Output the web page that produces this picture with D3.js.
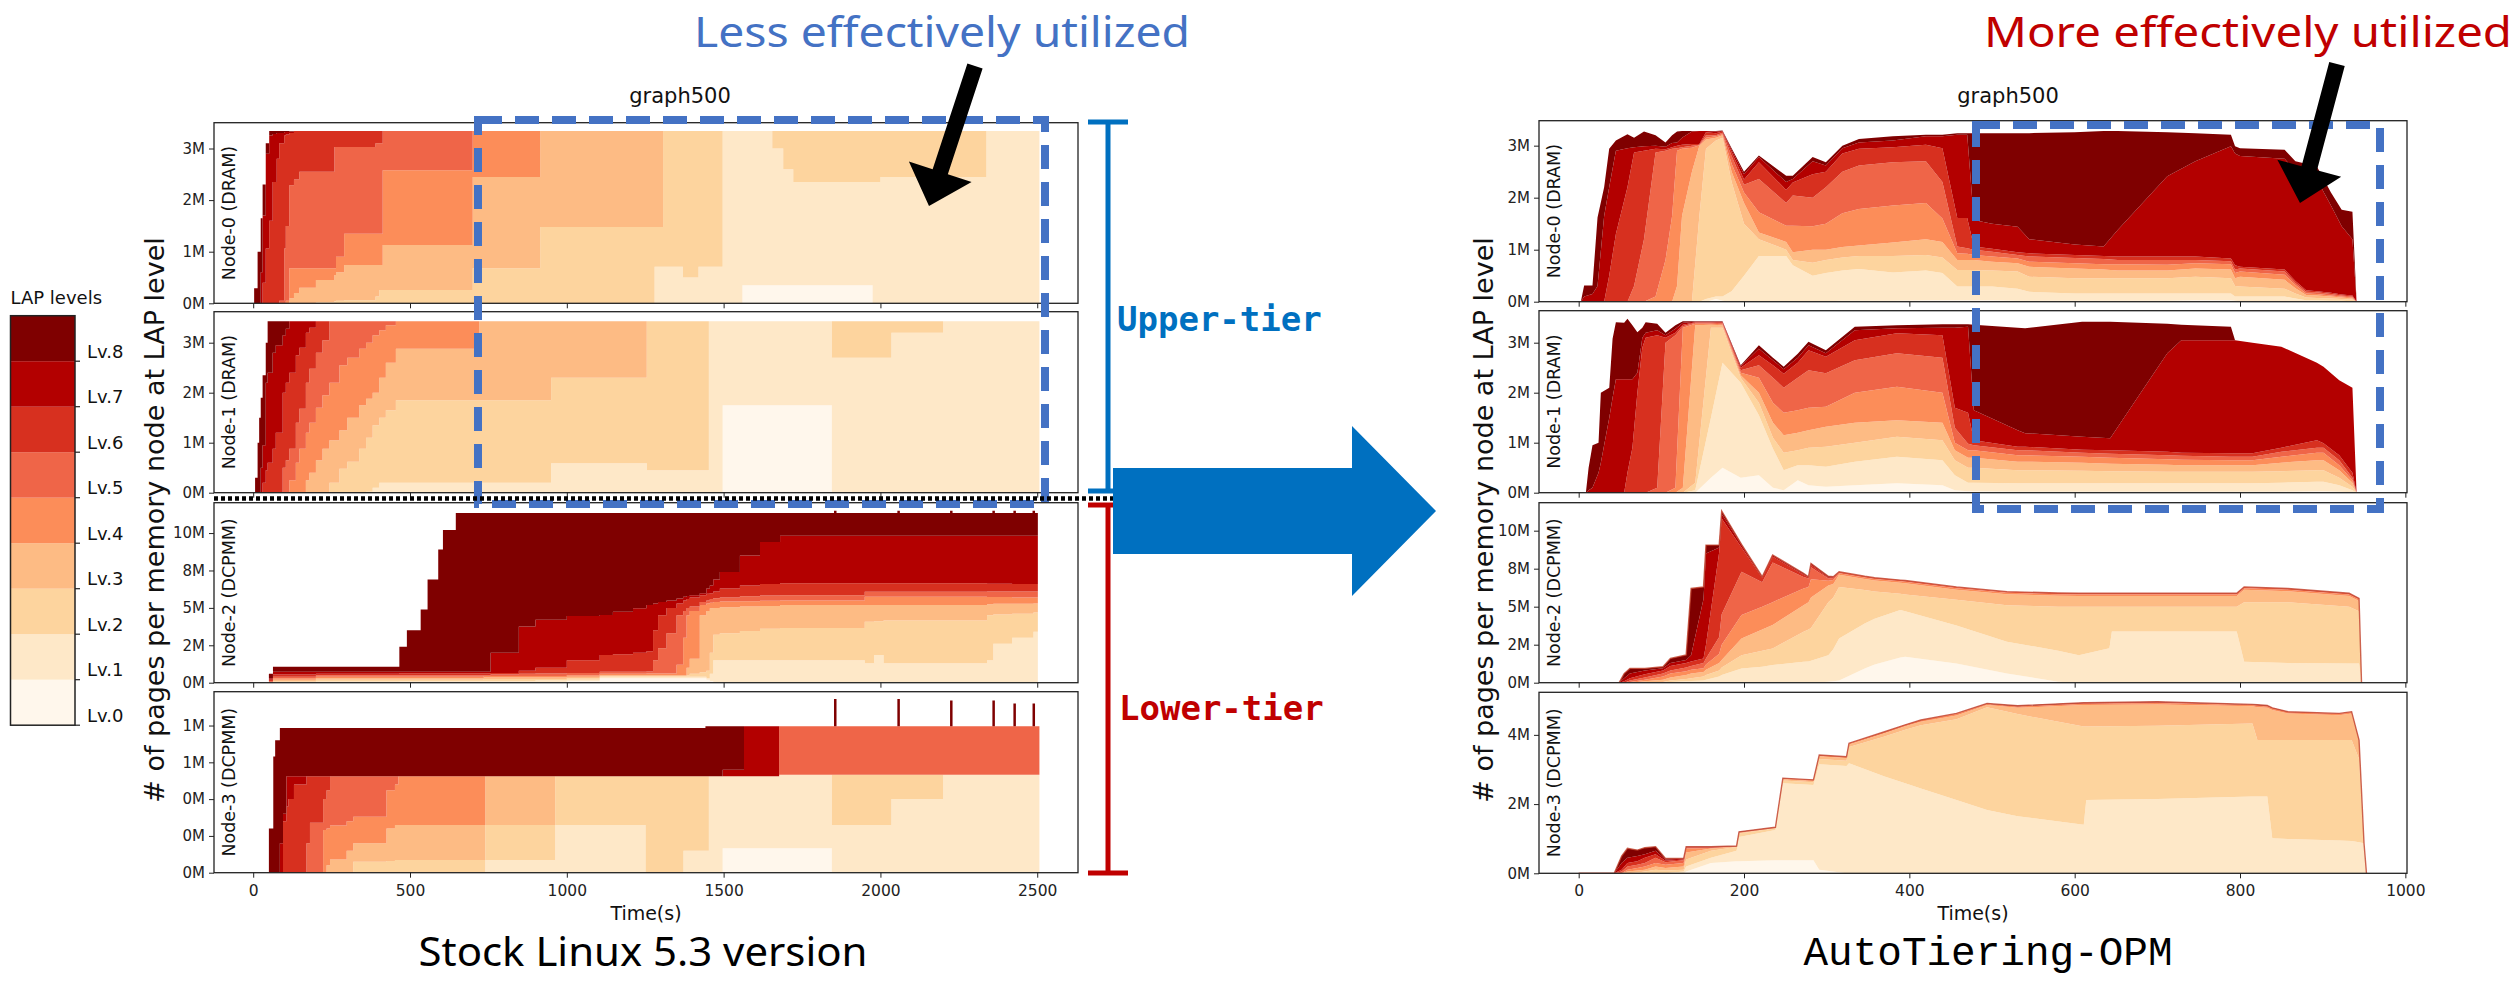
<!DOCTYPE html>
<html><head><meta charset="utf-8">
<script src="https://cdn.jsdelivr.net/npm/d3@7"></script>
<style>body{margin:0;background:#fff}svg{display:block}</style>
</head><body>
<svg id="c" width="2517" height="983"></svg>
<script>
// ---------------- DATA ----------------
const levels = ["Lv.0","Lv.1","Lv.2","Lv.3","Lv.4","Lv.5","Lv.6","Lv.7","Lv.8"];
const levelColors = ["#fff7ec","#fee8c8","#fdd49e","#fdbb84","#fc8d59","#ef6548","#d7301f","#b30000","#7f0000"];
const nodeNames = ["Node-0 (DRAM)","Node-1 (DRAM)","Node-2 (DCPMM)","Node-3 (DCPMM)"];
const stockTimeTicks = [0,500,1000,1500,2000,2500];
const autoTimeTicks = [0,200,400,600,800,1000];
const ticksDram = [0,1,2,3], labelsDram = ["0M","1M","2M","3M"];
const ticksN2 = [0,2.5,5,7.5,10], labelsN2 = ["0M","2M","5M","8M","10M"];
const ticksStockN3 = [0,0.25,0.5,0.75,1], labelsStockN3 = ["0M","0M","0M","1M","1M"];
const ticksAutoN3 = [0,2,4], labelsAutoN3 = ["0M","2M","4M"];

// rows: [time(s), pages(M) at level<=0, <=1, <=2, <=3, <=4, <=5, <=6, <=7, total]
const stockNode0 = [
[0,0,0,0,0,0,0,0,0,0],
[3,0,0,0,0,0,0,0,0,0.29],
[14,0,0,0,0,0,0,0,0,1.0],
[24,0,0,0,0,0,0,0,0.6,1.65],
[30,0,0,0,0,0,0,0.4,1.7,2.3],
[40,0,0,0,0,0,0,1.06,2.9,3.1],
[51,0,0,0,0,0,0,1.6,3.25,3.34],
[62,0,0,0,0,0,0,2.35,3.28,3.34],
[75,0,0,0,0,0,0,2.8,3.3,3.34],
[83,0,0,0,0,0,0.05,3.1,3.3,3.34],
[99,0,0,0,0,0,1.06,3.25,3.32,3.34],
[104,0,0,0,0,0.05,1.5,3.27,3.32,3.34],
[115,0,0,0,0.1,0.68,2.29,3.3,3.33,3.34],
[130,0,0,0,0.2,0.68,2.4,3.34,3.34,3.34],
[147,0,0,0,0.3,0.68,2.55,3.34,3.34,3.34],
[200,0,0,0.02,0.45,0.68,2.55,3.34,3.34,3.34],
[259,0,0,0.04,0.55,0.68,3.03,3.34,3.34,3.34],
[264,0,0,0.05,0.6,0.9,3.03,3.34,3.34,3.34],
[290,0,0,0.06,0.74,1.35,3.03,3.34,3.34,3.34],
[390,0,0,0.13,0.74,1.35,3.1,3.34,3.34,3.34],
[402,0,0,0.26,0.74,1.35,3.1,3.34,3.34,3.34],
[413,0,0,0.26,1.13,2.58,3.34,3.34,3.34,3.34],
[680,0,0,0.26,1.13,2.58,3.34,3.34,3.34,3.34],
[700,0,0,0.68,2.45,3.34,3.34,3.34,3.34,3.34],
[915,0,0,1.48,3.34,3.34,3.34,3.34,3.34,3.34],
[1280,0,0.71,1.48,3.34,3.34,3.34,3.34,3.34,3.34],
[1307,0,0.71,3.34,3.34,3.34,3.34,3.34,3.34,3.34],
[1370,0,0.5,3.34,3.34,3.34,3.34,3.34,3.34,3.34],
[1420,0,0.71,3.34,3.34,3.34,3.34,3.34,3.34,3.34],
[1497,0,3.34,3.34,3.34,3.34,3.34,3.34,3.34,3.34],
[1560,0.35,3.34,3.34,3.34,3.34,3.34,3.34,3.34,3.34],
[1655,0.35,3.0,3.34,3.34,3.34,3.34,3.34,3.34,3.34],
[1690,0.35,2.6,3.34,3.34,3.34,3.34,3.34,3.34,3.34],
[1722,0.35,2.35,3.34,3.34,3.34,3.34,3.34,3.34,3.34],
[1975,0,2.35,3.34,3.34,3.34,3.34,3.34,3.34,3.34],
[2000,0,2.45,3.34,3.34,3.34,3.34,3.34,3.34,3.34],
[2338,0,3.34,3.34,3.34,3.34,3.34,3.34,3.34,3.34],
[2507,0,0,0,0,0,0,0,0,0]
];
const stockNode1 = [
[0,0,0,0,0,0,0,0,0,0],
[6,0,0,0,0,0,0,0,0,0.3],
[14,0,0,0,0,0,0,0,0,1.0],
[19,0,0,0,0,0,0,0,0,1.5],
[24,0,0,0,0,0,0,0,0.5,1.9],
[30,0,0,0,0,0,0,0.2,0.95,2.35],
[40,0,0,0,0,0,0,0.45,2.2,3.0],
[46,0,0,0,0,0,0,0.6,2.4,3.43],
[62,0,0,0,0,0,0,0.88,2.8,3.43],
[72,0,0,0,0,0,0,1.2,2.95,3.43],
[94,0,0,0,0,0,0.5,2.0,3.15,3.43],
[104,0,0,0,0,0,0.65,2.2,3.28,3.43],
[115,0,0,0,0,0.25,0.88,2.4,3.43,3.43],
[136,0,0,0,0,0.6,1.4,2.75,3.43,3.43],
[147,0,0,0,0,0.88,1.68,2.9,3.43,3.43],
[168,0,0,0,0.25,1.2,2.2,3.2,3.43,3.43],
[179,0,0,0,0.4,1.4,2.48,3.3,3.43,3.43],
[200,0,0,0,0.65,1.7,2.8,3.43,3.43,3.43],
[221,0,0,0,0.88,1.95,3.05,3.43,3.43,3.43],
[243,0,0,0.2,1.05,2.2,3.43,3.43,3.43,3.43],
[275,0,0,0.48,1.25,2.55,3.43,3.43,3.43,3.43],
[300,0,0,0.62,1.5,2.7,3.43,3.43,3.43,3.43],
[338,0,0,0.88,1.75,2.88,3.43,3.43,3.43,3.43],
[360,0,0.02,1.1,1.88,3.0,3.43,3.43,3.43,3.43],
[381,0,0.1,1.35,2.0,3.15,3.43,3.43,3.43,3.43],
[402,0,0.2,1.5,2.3,3.25,3.43,3.43,3.43,3.43],
[423,0,0.2,1.65,2.6,3.35,3.43,3.43,3.43,3.43],
[455,0,0.2,1.85,2.88,3.43,3.43,3.43,3.43,3.43],
[721,0,0.2,1.85,3.43,3.43,3.43,3.43,3.43,3.43],
[950,0,0.59,2.3,3.43,3.43,3.43,3.43,3.43,3.43],
[1255,0,0.45,3.43,3.43,3.43,3.43,3.43,3.43,3.43],
[1453,0,3.43,3.43,3.43,3.43,3.43,3.43,3.43,3.43],
[1497,1.75,3.43,3.43,3.43,3.43,3.43,3.43,3.43,3.43],
[1845,0,2.7,3.43,3.43,3.43,3.43,3.43,3.43,3.43],
[2035,0,3.2,3.43,3.43,3.43,3.43,3.43,3.43,3.43],
[2200,0,3.43,3.43,3.43,3.43,3.43,3.43,3.43,3.43],
[2507,0,0,0,0,0,0,0,0,0]
];
const stockNode2 = [
[0,0,0,0,0,0,0,0,0,0],
[47,0,0,0,0,0,0,0,0,0],
[50,0,0,0,0,0,0.1,0.2,0.3,0.6],
[63,0,0.03,0.1,0.2,0.3,0.4,0.55,0.74,1.07],
[200,0,0.08,0.2,0.3,0.4,0.5,0.6,0.74,1.07],
[466,0,0.1,0.2,0.3,0.4,0.5,0.63,0.74,2.4],
[490,0,0.1,0.2,0.3,0.4,0.5,0.63,0.74,3.5],
[534,0,0.1,0.2,0.3,0.4,0.5,0.63,0.74,4.9],
[556,0,0.1,0.2,0.3,0.4,0.5,0.63,0.74,6.9],
[590,0,0.1,0.2,0.3,0.4,0.5,0.63,0.74,8.9],
[605,0,0.1,0.2,0.3,0.4,0.5,0.63,0.74,10.2],
[646,0,0.1,0.2,0.3,0.4,0.5,0.63,0.74,11.34],
[735,0,0.1,0.25,0.35,0.45,0.5,0.63,0.74,11.34],
[757,0,0.1,0.25,0.35,0.45,0.55,0.65,2.0,11.34],
[847,0,0.1,0.25,0.35,0.45,0.6,0.8,3.75,11.34],
[900,0.05,0.15,0.25,0.35,0.45,0.62,1.0,4.2,11.34],
[1000,0.1,0.2,0.3,0.4,0.5,0.65,1.5,4.45,11.34],
[1105,0.3,0.4,0.45,0.5,0.6,0.73,1.85,4.52,11.34],
[1147,0.3,0.4,0.45,0.5,0.6,0.73,1.9,4.74,11.34],
[1211,0.3,0.4,0.45,0.5,0.6,0.73,2.0,4.97,11.34],
[1254,0.3,0.4,0.45,0.5,0.62,0.75,2.1,5.2,11.34],
[1275,0.3,0.4,0.45,0.5,0.62,1.5,3.5,5.3,11.34],
[1291,0.3,0.4,0.45,0.5,0.62,2.3,4.5,5.4,11.34],
[1318,0.3,0.4,0.45,0.5,0.62,3.3,5.0,5.5,11.34],
[1350,0.3,0.4,0.45,0.5,1.2,4.5,5.3,5.63,11.34],
[1371,0.3,0.4,0.45,0.5,3.0,4.8,5.5,5.75,11.34],
[1382,0.3,0.4,0.5,1.0,4.5,5.0,5.6,5.8,11.34],
[1392,0.3,0.4,0.6,1.6,4.8,5.1,5.7,5.85,11.34],
[1424,0.3,0.4,0.7,4.5,5.2,5.4,5.85,5.97,11.34],
[1445,0.2,0.3,0.8,4.8,5.3,5.5,5.95,6.3,11.34],
[1456,0.1,0.6,2.0,4.97,5.35,5.6,5.97,6.5,11.34],
[1467,0,1.5,3.2,5.0,5.4,5.65,6.1,6.9,11.34],
[1488,0,1.5,3.3,5.05,5.42,5.7,6.3,7.4,11.34],
[1552,0,1.5,3.45,5.1,5.45,5.78,6.5,8.5,11.34],
[1616,0,1.5,3.6,5.12,5.48,5.83,6.6,9.4,11.34],
[1680,0,1.5,3.65,5.19,5.5,5.85,6.64,9.82,11.34],
[1950,0,1.3,4.08,5.19,5.75,6.08,6.64,9.82,11.34],
[1980,0,1.85,4.1,5.2,5.75,6.08,6.64,9.82,11.34],
[2010,0,1.3,4.15,5.2,5.75,6.08,6.64,9.82,11.34],
[2340,0,1.5,4.5,5.25,5.72,6.1,6.62,9.82,11.34],
[2360,0,2.6,4.55,5.27,5.72,6.1,6.62,9.82,11.34],
[2420,0,3.0,4.6,5.28,5.7,6.1,6.6,9.82,11.34],
[2488,0,3.4,4.7,5.3,5.7,6.1,6.6,9.82,11.34],
[2502,0,0,0,0,0,0,0,0,0]
];
const stockNode3 = [
[0,0,0,0,0,0,0,0,0,0],
[42,0,0,0,0,0,0,0,0,0],
[50,0,0,0,0,0,0,0,0,0.3],
[64,0,0,0,0,0,0,0,0,0.79],
[70,0,0,0,0,0,0,0,0,0.9],
[85,0,0,0,0,0,0,0,0.2,0.984],
[95,0,0,0,0,0,0,0.35,0.4,0.984],
[106,0,0,0,0,0,0,0.45,0.655,0.984],
[112,0,0,0,0,0,0,0.5,0.655,0.984],
[130,0,0,0,0,0,0,0.6,0.655,0.984],
[170,0,0,0,0,0,0.2,0.655,0.655,0.984],
[181,0,0,0,0,0,0.34,0.655,0.655,0.984],
[223,0,0,0,0,0.29,0.5,0.655,0.655,0.984],
[234,0,0,0,0.05,0.3,0.56,0.655,0.655,0.984],
[245,0,0,0,0.09,0.32,0.655,0.655,0.655,0.984],
[298,0,0,0,0.15,0.35,0.655,0.655,0.655,0.984],
[319,0,0,0.075,0.2,0.38,0.655,0.655,0.655,0.984],
[425,0,0,0.08,0.3,0.56,0.655,0.655,0.655,0.984],
[452,0,0,0.086,0.325,0.6,0.655,0.655,0.655,0.984],
[463,0,0,0.086,0.325,0.655,0.655,0.655,0.655,0.984],
[740,0,0.086,0.325,0.655,0.655,0.655,0.655,0.655,0.984],
[963,0,0.325,0.655,0.655,0.655,0.655,0.655,0.655,0.984],
[1251,0,0,0.655,0.655,0.655,0.655,0.655,0.655,0.984],
[1372,0,0.15,0.655,0.655,0.655,0.655,0.655,0.655,0.984],
[1442,0,0.15,0.655,0.655,0.655,0.655,0.655,0.655,0.995],
[1453,0,0.655,0.655,0.655,0.655,0.655,0.655,0.655,0.995],
[1497,0.166,0.655,0.655,0.655,0.655,0.655,0.655,0.70,0.995],
[1565,0.166,0.655,0.655,0.655,0.655,0.655,0.655,0.995,0.995],
[1677,0.166,0.666,0.666,0.666,0.666,0.995,0.995,0.995,0.995],
[1845,0,0.325,0.666,0.666,0.666,0.995,0.995,0.995,0.995],
[2035,0,0.5,0.666,0.666,0.666,0.995,0.995,0.995,0.995],
[2200,0,0.666,0.666,0.666,0.666,0.995,0.995,0.995,0.995],
[2507,0,0,0,0,0,0,0,0,0]
];
// short Lv.8 bursts above the total: [time, base(M), peak(M)]
const stockNode2Spikes = [[1856,11.34,11.5],[2058,11.34,11.5],[2226,11.34,11.5],[2361,11.34,11.5],[2428,11.34,11.5],[2489,11.34,11.5]];
const stockNode3Spikes = [[1856,0.995,1.18],[2058,0.995,1.18],[2226,0.995,1.17],[2361,0.995,1.17],[2428,0.995,1.15],[2489,0.995,1.15]];

const autoNode0 = [
[0,0,0,0,0,0,0,0,0,0],
[2.6,0,0,0,0,0,0,0,0,0],
[6.6,0,0,0,0,0,0,0,0.1,0.31],
[16.7,0,0,0,0,0,0,0,0.15,0.31],
[22.8,0,0,0,0,0,0,0,0.3,1.62],
[30.8,0,0,0,0,0,0,0,1.65,2.2],
[36.9,0,0,0,0,0,0,0.5,2.2,2.94],
[45,0,0,0,0,0,0,1.3,2.9,3.1],
[59,0,0,0,0,0,0,2.2,2.95,3.22],
[67,0,0,0,0,0,0.3,2.87,2.97,3.15],
[79,0,0,0,0,0,1.2,2.9,2.99,3.27],
[93,0,0,0,0,0.1,2.87,2.94,3.0,3.2],
[105,0,0,0,0,0.8,2.9,2.93,2.98,3.06],
[113,0,0,0,0,1.65,2.94,2.97,3.05,3.2],
[119,0,0,0,0.3,2.9,2.95,3.0,3.06,3.27],
[125,0,0,0,1.65,2.94,2.97,3.02,3.15,3.28],
[137,0,0,0,2.5,2.96,3.0,3.03,3.27,3.28],
[146,0,0,1.65,3.0,3.01,3.02,3.03,3.28,3.28],
[154,0,0.05,2.94,3.12,3.15,3.2,3.26,3.28,3.28],
[166,0.05,0.1,3.1,3.15,3.18,3.2,3.24,3.27,3.28],
[174,0.02,0.1,3.15,3.2,3.22,3.25,3.27,3.28,3.29],
[185,0,0.2,2.3,2.5,2.65,2.8,2.88,2.92,2.95],
[200,0,0.5,1.5,1.9,2.1,2.25,2.35,2.45,2.5],
[218,0.01,0.88,1.2,1.33,1.72,2.36,2.68,2.78,2.81],
[251,0.01,0.88,1.0,1.15,1.46,1.9,2.15,2.3,2.42],
[259,0.01,0.7,0.8,0.95,1.46,2.04,2.29,2.36,2.42],
[283,0.01,0.5,0.75,1.0,1.45,2.0,2.45,2.7,2.78],
[299,0.01,0.55,0.8,1.0,1.5,2.2,2.5,2.62,2.68],
[319,0.02,0.6,0.85,1.05,1.7,2.5,2.85,2.95,3.0],
[339,0.02,0.63,0.88,1.08,1.78,2.62,2.94,3.06,3.13],
[380,0.02,0.56,0.88,1.14,1.85,2.68,2.97,3.1,3.18],
[420,0.03,0.6,0.9,1.2,1.9,2.7,3.02,3.18,3.21],
[440,0.03,0.55,0.85,1.15,1.6,2.3,2.95,3.18,3.21],
[458,0.03,0.29,0.61,0.80,0.93,1.06,1.61,3.21,3.24],
[470,0.03,0.29,0.61,0.80,0.92,1.03,1.61,3.21,3.24],
[478,0.03,0.29,0.61,0.80,0.90,1.00,1.06,1.57,3.24],
[500,0.03,0.29,0.6,0.77,0.87,0.96,1.02,1.5,3.24],
[531,0.02,0.25,0.58,0.74,0.83,0.9,0.95,1.44,3.24],
[545,0.02,0.19,0.48,0.67,0.77,0.87,0.93,1.2,3.24],
[600,0.02,0.16,0.45,0.64,0.74,0.84,0.9,1.1,3.26],
[635,0.02,0.16,0.45,0.62,0.72,0.82,0.88,1.06,3.28],
[652,0.02,0.16,0.45,0.6,0.72,0.8,0.87,1.38,3.28],
[712,0.02,0.16,0.45,0.6,0.71,0.8,0.87,2.41,3.26],
[746,0.03,0.16,0.48,0.64,0.74,0.8,0.87,2.70,3.24],
[789,0.03,0.16,0.45,0.62,0.72,0.78,0.83,2.99,3.21],
[794,0.02,0.1,0.3,0.45,0.55,0.62,0.7,2.85,2.99],
[800,0.01,0.10,0.29,0.48,0.58,0.64,0.67,2.8,2.95],
[854,0.01,0.10,0.25,0.42,0.52,0.58,0.62,2.75,2.92],
[867,0.01,0.06,0.16,0.26,0.32,0.36,0.40,2.5,2.7],
[880,0,0.03,0.08,0.13,0.16,0.19,0.22,2.45,2.65],
[893,0,0.03,0.07,0.12,0.15,0.18,0.2,2.35,2.6],
[910,0,0.02,0.06,0.1,0.12,0.15,0.17,1.85,2.1],
[923,0,0.02,0.05,0.08,0.1,0.12,0.14,1.45,1.77],
[936,0,0.01,0.04,0.06,0.08,0.1,0.12,1.2,1.73],
[941,0,0,0,0,0,0,0,0,0]
];
const autoNode1 = [
[0,0,0,0,0,0,0,0,0,0],
[8.7,0,0,0,0,0,0,0,0,0],
[12,0,0,0,0,0,0,0,0.05,0.5],
[16.7,0,0,0,0,0,0,0,0.1,0.95],
[24,0,0,0,0,0,0,0,0.4,1.0],
[26.8,0,0,0,0,0,0,0,0.6,2.0],
[37,0,0,0,0,0,0,0,1.5,2.1],
[41,0,0,0,0,0,0,0,1.9,3.08],
[45,0,0,0,0,0,0,0,2.27,3.41],
[55,0,0,0,0,0,0,0,2.27,3.4],
[59,0,0,0,0,0,0,0.4,2.27,3.48],
[65,0,0,0,0,0,0,0.9,2.27,3.35],
[71,0,0,0,0,0,0,2.0,2.4,3.21],
[77,0,0,0,0,0,0,2.9,3.1,3.3],
[81,0,0,0,0,0,0,3.1,3.2,3.41],
[95,0,0,0,0,0,0.1,3.15,3.25,3.38],
[105,0,0,0,0,0,3.0,3.1,3.15,3.2],
[117,0,0,0,0,0.1,3.15,3.2,3.28,3.35],
[126,0,0,0,0.1,3.3,3.33,3.36,3.4,3.43],
[141,0,0.05,0.2,3.35,3.38,3.4,3.41,3.42,3.43],
[160,0.3,1.5,3.3,3.36,3.38,3.4,3.41,3.42,3.43],
[174,0.5,2.6,3.3,3.35,3.37,3.39,3.41,3.42,3.43],
[196,0.3,2.2,2.3,2.35,2.4,2.45,2.5,2.53,2.55],
[218,0.35,1.55,1.8,2.0,2.3,2.55,2.75,2.88,2.95],
[235,0.1,0.88,1.1,1.4,1.8,2.3,2.55,2.65,2.7],
[248,0.05,0.45,0.8,1.15,1.6,2.1,2.38,2.47,2.52],
[265,0.25,0.55,0.85,1.2,1.65,2.3,2.6,2.7,2.78],
[278,0.15,0.55,0.9,1.25,1.7,2.45,2.85,2.95,3.02],
[299,0.12,0.52,0.92,1.32,1.72,2.39,2.72,2.79,2.85],
[334,0.15,0.62,1.0,1.4,2.0,2.65,3.05,3.25,3.32],
[385,0.19,0.72,1.12,1.45,2.12,2.79,3.19,3.29,3.35],
[440,0.15,0.65,1.05,1.4,2.0,2.7,3.15,3.3,3.37],
[455,0.05,0.35,0.65,0.85,1.0,1.3,1.7,3.3,3.37],
[471,0.03,0.2,0.5,0.7,0.85,0.98,1.6,3.32,3.37],
[478,0.03,0.2,0.5,0.7,0.85,0.95,1.05,1.65,3.36],
[531,0.02,0.19,0.45,0.62,0.75,0.85,0.92,1.25,3.3],
[540,0.02,0.19,0.45,0.62,0.75,0.85,0.92,1.19,3.29],
[609,0.02,0.19,0.44,0.6,0.72,0.8,0.86,1.12,3.42],
[643,0.02,0.19,0.43,0.58,0.7,0.78,0.85,1.09,3.42],
[712,0.02,0.19,0.42,0.56,0.67,0.75,0.82,2.79,3.38],
[729,0.02,0.19,0.42,0.55,0.66,0.74,0.8,3.05,3.36],
[789,0.02,0.19,0.42,0.55,0.65,0.72,0.79,3.05,3.32],
[794,0.02,0.19,0.42,0.55,0.65,0.72,0.79,3.05,3.05],
[815,0.02,0.19,0.42,0.55,0.65,0.72,0.79,3.0,3.0],
[850,0.02,0.2,0.43,0.6,0.72,0.82,0.9,2.92,2.92],
[893,0.03,0.22,0.45,0.65,0.8,0.9,1.05,2.6,2.6],
[901,0.03,0.22,0.45,0.65,0.8,0.9,0.99,2.52,2.52],
[920,0.02,0.15,0.3,0.45,0.55,0.65,0.75,2.25,2.25],
[936,0.01,0.05,0.12,0.2,0.25,0.3,0.4,2.1,2.1],
[941,0,0,0,0,0,0,0,0,0]
];
const autoNode2 = [
[0,0,0,0,0,0,0,0,0,0],
[49,0,0,0,0,0,0,0,0,0],
[55,0,0,0,0,0,0,0.1,0.3,0.6],
[62,0,0,0,0,0.05,0.15,0.3,0.6,0.94],
[80,0,0,0,0.1,0.2,0.35,0.55,0.8,0.94],
[102,0,0,0.05,0.2,0.4,0.6,0.8,0.95,1.05],
[111,0,0.05,0.15,0.35,0.6,0.8,1.1,1.3,1.6],
[130,0,0.1,0.25,0.5,0.75,1.0,1.3,1.5,1.82],
[136,0,0.12,0.3,0.6,0.85,1.1,1.4,1.8,6.2],
[151,0,0.15,0.4,0.7,0.95,1.3,1.6,5.5,6.3],
[154,0,0.2,0.5,0.85,1.2,1.6,2.5,8.5,9.05],
[170,0,0.4,0.8,1.3,1.9,3.0,8.6,8.9,9.05],
[173,0,0.5,1.0,1.5,2.5,4.5,10.8,11.1,11.3],
[197,0,0.94,1.8,2.9,4.45,7.3,8.9,9.05,9.1],
[222,0,1.05,2.1,3.5,5.0,6.6,6.9,6.95,6.97],
[234.6,0,1.16,2.25,3.8,5.3,7.9,8.3,8.38,8.4],
[272,0,1.38,3.35,5.1,6.2,6.95,7.1,7.15,7.2],
[278,0,1.4,3.5,5.3,6.3,6.85,6.92,6.95,6.97],
[281,0,1.45,3.6,5.6,6.8,7.6,7.75,7.82,7.85],
[302,0.07,1.8,5.3,6.4,6.7,6.85,6.9,6.95,7.0],
[308,0.1,2.2,5.6,6.5,6.75,6.88,6.93,6.96,6.97],
[315,0.15,2.9,6.3,7.1,7.2,7.3,7.3,7.3,7.3],
[346,0.94,3.9,6.1,6.82,6.92,7.0,7.0,7.0,7.0],
[358,1.2,4.2,6.0,6.72,6.82,6.9,6.9,6.9,6.9],
[389,1.65,4.78,5.85,6.57,6.67,6.75,6.75,6.75,6.75],
[395,1.7,4.7,5.8,6.54,6.64,6.72,6.72,6.72,6.72],
[457,1.27,3.77,5.45,6.12,6.22,6.3,6.3,6.3,6.3],
[518,0.61,2.7,5.1,5.81,5.91,5.99,5.99,5.99,5.99],
[580,0.07,2.1,5.0,5.72,5.82,5.9,5.9,5.9,5.9],
[605,0,1.8,5.0,5.7,5.8,5.88,5.88,5.88,5.88],
[642,0,2.26,5.0,5.7,5.8,5.88,5.88,5.88,5.88],
[645,0,3.36,5.0,5.7,5.8,5.88,5.88,5.88,5.88],
[796,0,3.36,5.0,5.7,5.8,5.88,5.88,5.88,5.88],
[805,0,1.38,5.3,6.12,6.22,6.3,6.3,6.3,6.3],
[858,0,1.3,5.3,6.02,6.12,6.2,6.2,6.2,6.2],
[932,0,1.27,5.0,5.7,5.8,5.88,5.88,5.88,5.88],
[944,0,1.27,4.7,5.37,5.47,5.55,5.55,5.55,5.55],
[947,0,0,0,0,0,0,0,0,0]
];
const autoNode3 = [
[0,0,0,0,0,0,0,0,0,0],
[43,0,0,0,0,0,0,0,0,0],
[52,0,0,0,0,0,0.05,0.1,0.3,0.5],
[59,0,0,0,0.05,0.1,0.2,0.3,0.45,0.72],
[71,0,0,0.02,0.08,0.15,0.25,0.35,0.5,0.67],
[80,0,0,0.05,0.1,0.2,0.3,0.45,0.55,0.74],
[93,0,0,0.1,0.2,0.3,0.45,0.55,0.65,0.77],
[105,0,0,0.08,0.15,0.25,0.32,0.36,0.4,0.43],
[127,0,0.05,0.1,0.2,0.3,0.38,0.4,0.42,0.43],
[130,0.05,0.2,0.4,0.6,0.72,0.74,0.75,0.76,0.77],
[160,0.3,0.45,0.65,0.72,0.73,0.74,0.75,0.76,0.77],
[191,0.35,0.65,0.76,0.77,0.78,0.78,0.78,0.78,0.79],
[194,0.35,1.05,1.15,1.17,1.18,1.19,1.19,1.19,1.2],
[238,0.38,1.25,1.3,1.31,1.32,1.33,1.33,1.33,1.33],
[247,0.38,2.6,2.68,2.72,2.74,2.75,2.75,2.75,2.75],
[284,0.38,2.55,2.63,2.67,2.69,2.7,2.7,2.7,2.7],
[291,0.1,3.15,3.3,3.38,3.41,3.42,3.42,3.42,3.42],
[324,0,3.1,3.25,3.33,3.36,3.37,3.37,3.37,3.37],
[327,0,3.18,3.65,3.72,3.75,3.76,3.76,3.76,3.76],
[370,0,2.8,3.95,4.05,4.08,4.09,4.09,4.09,4.09],
[395,0,2.6,4.15,4.25,4.28,4.29,4.29,4.29,4.29],
[414,0,2.45,4.28,4.38,4.42,4.43,4.43,4.43,4.43],
[457,0,2.12,4.45,4.56,4.6,4.62,4.62,4.62,4.62],
[494,0,1.83,4.8,4.86,4.89,4.9,4.9,4.9,4.91],
[531,0,1.65,4.6,4.78,4.82,4.83,4.83,4.83,4.84],
[611,0,1.4,4.24,4.86,4.9,4.91,4.92,4.92,4.93],
[614,0,2.12,4.24,4.86,4.9,4.91,4.92,4.92,4.93],
[700,0,2.15,4.26,4.88,4.92,4.93,4.94,4.95,4.96],
[815,0,2.22,4.33,4.83,4.86,4.87,4.87,4.87,4.88],
[821,0,2.22,3.85,4.8,4.84,4.85,4.86,4.86,4.87],
[833,0,2.22,3.85,4.78,4.82,4.83,4.84,4.84,4.85],
[839,0,1.01,3.85,4.72,4.76,4.77,4.78,4.78,4.78],
[858,0,0.99,3.85,4.62,4.65,4.66,4.67,4.67,4.67],
[920,0,0.95,3.85,4.57,4.6,4.61,4.62,4.62,4.62],
[935,0,0.93,3.85,4.62,4.65,4.66,4.67,4.67,4.67],
[944,0,0.9,3.3,3.8,3.83,3.84,3.85,3.85,3.85],
[950,0,0.87,0.87,0.87,0.87,0.87,0.87,0.87,0.87],
[953,0,0,0,0,0,0,0,0,0]
];

// ---------------- LAYOUT ----------------
const svg = d3.select("#c");
const FONT = "DejaVu Sans, sans-serif";
const stockX = [214, 1078], autoX = [1539, 2407];
const stockRows = [[122.7,303.3],[311.7,492.7],[502.7,682.7],[691.7,872.7]];
const autoRows = [[120.7,301.7],[310.7,492.7],[502.7,682.7],[692.3,873.3]];

const stockPanels = [
  {data: stockNode0, yMax: 3.5, ticks: ticksDram, labels: labelsDram},
  {data: stockNode1, yMax: 3.62, ticks: ticksDram, labels: labelsDram},
  {data: stockNode2, yMax: 12.03, ticks: ticksN2, labels: labelsN2, spikes: stockNode2Spikes},
  {data: stockNode3, yMax: 1.23, ticks: ticksStockN3, labels: labelsStockN3, spikes: stockNode3Spikes}
];
const autoPanels = [
  {data: autoNode0, yMax: 3.48, ticks: ticksDram, labels: labelsDram},
  {data: autoNode1, yMax: 3.64, ticks: ticksDram, labels: labelsDram},
  {data: autoNode2, yMax: 11.84, ticks: ticksN2, labels: labelsN2},
  {data: autoNode3, yMax: 5.23, ticks: ticksAutoN3, labels: labelsAutoN3}
];

function drawPanel(p, i, xr, yr, xDomain, xTicks, curve, isBottom, id, edge) {
  const x = d3.scaleLinear().domain(xDomain).range(xr);
  const y = d3.scaleLinear().domain([0, p.yMax]).range([yr[1], yr[0]]);
  const g = svg.append("g");
  g.append("clipPath").attr("id", id).append("rect")
    .attr("x", xr[0]).attr("y", yr[0]).attr("width", xr[1]-xr[0]).attr("height", yr[1]-yr[0]);
  const pg = g.append("g").attr("clip-path", `url(#${id})`);
  levels.forEach((lv, k) => {
    const area = d3.area().curve(curve)
      .x(r => x(r[0]))
      .y0(r => y(k === 0 ? 0 : r[k]))
      .y1(r => y(Math.max(r[k+1], k === 0 ? 0 : r[k])));
    pg.append("path").datum(p.data).attr("d", area).attr("fill", levelColors[k]);
  });
  if (edge) {
    const top = d3.line().curve(curve).x(r => x(r[0])).y(r => y(r[9]));
    pg.append("path").datum(p.data).attr("d", top).attr("fill", "none")
      .attr("stroke", edge).attr("stroke-width", 1.4).attr("opacity", 0.8);
  }
  if (p.spikes) {
    pg.selectAll("line.sp").data(p.spikes).enter().append("line")
      .attr("x1", d => x(d[0])).attr("x2", d => x(d[0]))
      .attr("y1", d => y(d[1])).attr("y2", d => y(d[2]))
      .attr("stroke", levelColors[8]).attr("stroke-width", 2.5);
  }
  g.append("rect").attr("x", xr[0]).attr("y", yr[0]).attr("width", xr[1]-xr[0]).attr("height", yr[1]-yr[0])
    .attr("fill", "none").attr("stroke", "#222").attr("stroke-width", 1.3);
  const ya = g.append("g").attr("transform", `translate(${xr[0]},0)`)
    .call(d3.axisLeft(y).tickValues(p.ticks).tickFormat((d, j) => p.labels[j]).tickSize(5).tickPadding(4));
  ya.select(".domain").remove();
  ya.selectAll("text").attr("font-family", FONT).attr("font-size", 15).attr("fill", "#222");
  ya.selectAll("line").attr("stroke", "#222");
  const xa = g.append("g").attr("transform", `translate(0,${yr[1]})`)
    .call(d3.axisBottom(x).tickValues(xTicks).tickFormat(isBottom ? d3.format("d") : () => "").tickSize(5).tickPadding(7));
  xa.select(".domain").remove();
  xa.selectAll("text").attr("font-family", FONT).attr("font-size", 15.5).attr("fill", "#222");
  xa.selectAll("line").attr("stroke", "#222");
  g.append("text").attr("transform", `translate(${xr[0]+15},${(yr[0]+yr[1])/2}) rotate(-90)`)
    .attr("text-anchor", "middle").attr("dominant-baseline", "central")
    .attr("font-family", FONT).attr("font-size", 17.5).attr("fill", "#111").text(nodeNames[i]);
}

stockPanels.forEach((p, i) => drawPanel(p, i, stockX, stockRows[i], [-125, 2630], stockTimeTicks, d3.curveStepAfter, i === 3, "cs" + i, null));
autoPanels.forEach((p, i) => drawPanel(p, i, autoX, autoRows[i], [-48, 1002], autoTimeTicks, d3.curveLinear, i === 3, "ca" + i, i >= 2 ? "#c0402a" : null));

function txt(x, y, s, opt) {
  const t = svg.append("text").attr("x", x).attr("y", y).text(s)
    .attr("font-family", opt.font || FONT).attr("font-size", opt.size).attr("fill", opt.fill || "#111")
    .attr("text-anchor", opt.anchor || "middle");
  if (opt.weight) t.attr("font-weight", opt.weight);
  if (opt.len) t.attr("textLength", opt.len).attr("lengthAdjust", "spacingAndGlyphs");
  if (opt.rotate) t.attr("transform", `rotate(${opt.rotate},${x},${y})`);
  return t;
}
txt(680, 103, "graph500", {size: 21});
txt(2008, 103, "graph500", {size: 21});
txt(646, 920, "Time(s)", {size: 19});
txt(1973, 920, "Time(s)", {size: 19});
txt(164, 520, "# of pages per memory node at LAP level", {size: 27, rotate: -90});
txt(1493, 520, "# of pages per memory node at LAP level", {size: 27, rotate: -90});
txt(643, 966, "Stock Linux 5.3 version", {size: 40, font: "Noto Sans, Open Sans, sans-serif", fill: "#000", len: 449});
txt(1988, 965, "AutoTiering-OPM", {size: 41, font: "Liberation Mono, DejaVu Sans Mono, monospace", fill: "#000"});
txt(942, 47, "Less effectively utilized", {size: 41, font: "Noto Sans, Open Sans, sans-serif", fill: "#4472C4", len: 496});
txt(2248, 47, "More effectively utilized", {size: 41, font: "Noto Sans, Open Sans, sans-serif", fill: "#C00000", len: 528});

// ---------------- LEGEND (colorbar) ----------------
const lg = svg.append("g");
const legTop = 315.7, legBand = 45.5, legX = 10.5, legW = 64.5;
txt(legX, 304, "LAP levels", {size: 18, anchor: "start"});
const legY = d3.scaleBand().domain(levels.slice().reverse()).range([legTop, legTop + 9 * legBand]);
lg.selectAll("rect.b").data(levels).enter().append("rect")
  .attr("x", legX).attr("y", d => legY(d)).attr("width", legW).attr("height", legY.bandwidth())
  .attr("fill", (d, k) => levelColors[k]);
lg.append("rect").attr("x", legX).attr("y", legTop).attr("width", legW).attr("height", 9 * legBand)
  .attr("fill", "none").attr("stroke", "#222").attr("stroke-width", 1.5);
lg.selectAll("line.t").data(levels).enter().append("line")
  .attr("x1", legX + legW).attr("x2", legX + legW + 5)
  .attr("y1", d => legY(d) + legY.bandwidth()).attr("y2", d => legY(d) + legY.bandwidth())
  .attr("stroke", "#222").attr("stroke-width", 1.2);
lg.selectAll("text.l").data(levels).enter().append("text")
  .attr("x", 87).attr("y", d => legY(d) + legY.bandwidth() - 10)
  .attr("dominant-baseline", "central").attr("font-family", FONT).attr("font-size", 18).attr("fill", "#111")
  .text(d => d);

// ---------------- ANNOTATIONS ----------------
const blueBox = "#4472C4";
svg.append("rect").attr("x", 478).attr("y", 120).attr("width", 567).attr("height", 384)
  .attr("fill", "none").attr("stroke", blueBox).attr("stroke-width", 8).attr("stroke-dasharray", "24 13");
svg.append("rect").attr("x", 1976).attr("y", 125).attr("width", 404).attr("height", 384)
  .attr("fill", "none").attr("stroke", blueBox).attr("stroke-width", 8).attr("stroke-dasharray", "24 13");

svg.append("line").attr("x1", 214).attr("x2", 1113).attr("y1", 498.5).attr("y2", 498.5)
  .attr("stroke", "#000").attr("stroke-width", 4.5).attr("stroke-dasharray", "4 3");

function bracket(x, y0, y1, color) {
  const b = svg.append("g").attr("stroke", color).attr("stroke-width", 5).attr("fill", "none");
  b.append("line").attr("x1", x).attr("x2", x).attr("y1", y0).attr("y2", y1);
  b.append("line").attr("x1", x - 20).attr("x2", x + 20).attr("y1", y0).attr("y2", y0);
  b.append("line").attr("x1", x - 20).attr("x2", x + 20).attr("y1", y1).attr("y2", y1);
}
bracket(1108, 122, 491, "#0070C0");
bracket(1108, 505, 873, "#C00000");
txt(1117, 331, "Upper-tier", {size: 34, anchor: "start", weight: "bold", font: "DejaVu Sans Mono, monospace", fill: "#0070C0"});
txt(1119, 720, "Lower-tier", {size: 34, anchor: "start", weight: "bold", font: "DejaVu Sans Mono, monospace", fill: "#C00000"});

svg.append("polygon").attr("fill", "#0070C0")
  .attr("points", [[1113,468],[1352,468],[1352,426],[1436,511],[1352,596],[1352,554],[1113,554]].map(p => p.join(",")).join(" "));

function arrowPoly(x0, y0, x1, y1, sw, hl, hw) {
  const dx = x1 - x0, dy = y1 - y0, L = Math.hypot(dx, dy), ux = dx / L, uy = dy / L, px = -uy, py = ux;
  const bx = x1 - ux * hl, by = y1 - uy * hl;
  return [[x0 + px*sw/2, y0 + py*sw/2], [bx + px*sw/2, by + py*sw/2], [bx + px*hw/2, by + py*hw/2], [x1, y1],
          [bx - px*hw/2, by - py*hw/2], [bx - px*sw/2, by - py*sw/2], [x0 - px*sw/2, y0 - py*sw/2]];
}
svg.append("polygon").attr("fill", "#000").attr("points", arrowPoly(975, 66, 929, 206, 16, 36, 66).map(p => p.join(",")).join(" "));
svg.append("polygon").attr("fill", "#000").attr("points", arrowPoly(2337, 64, 2300, 203, 16, 36, 66).map(p => p.join(",")).join(" "));
</script>
</body></html>
